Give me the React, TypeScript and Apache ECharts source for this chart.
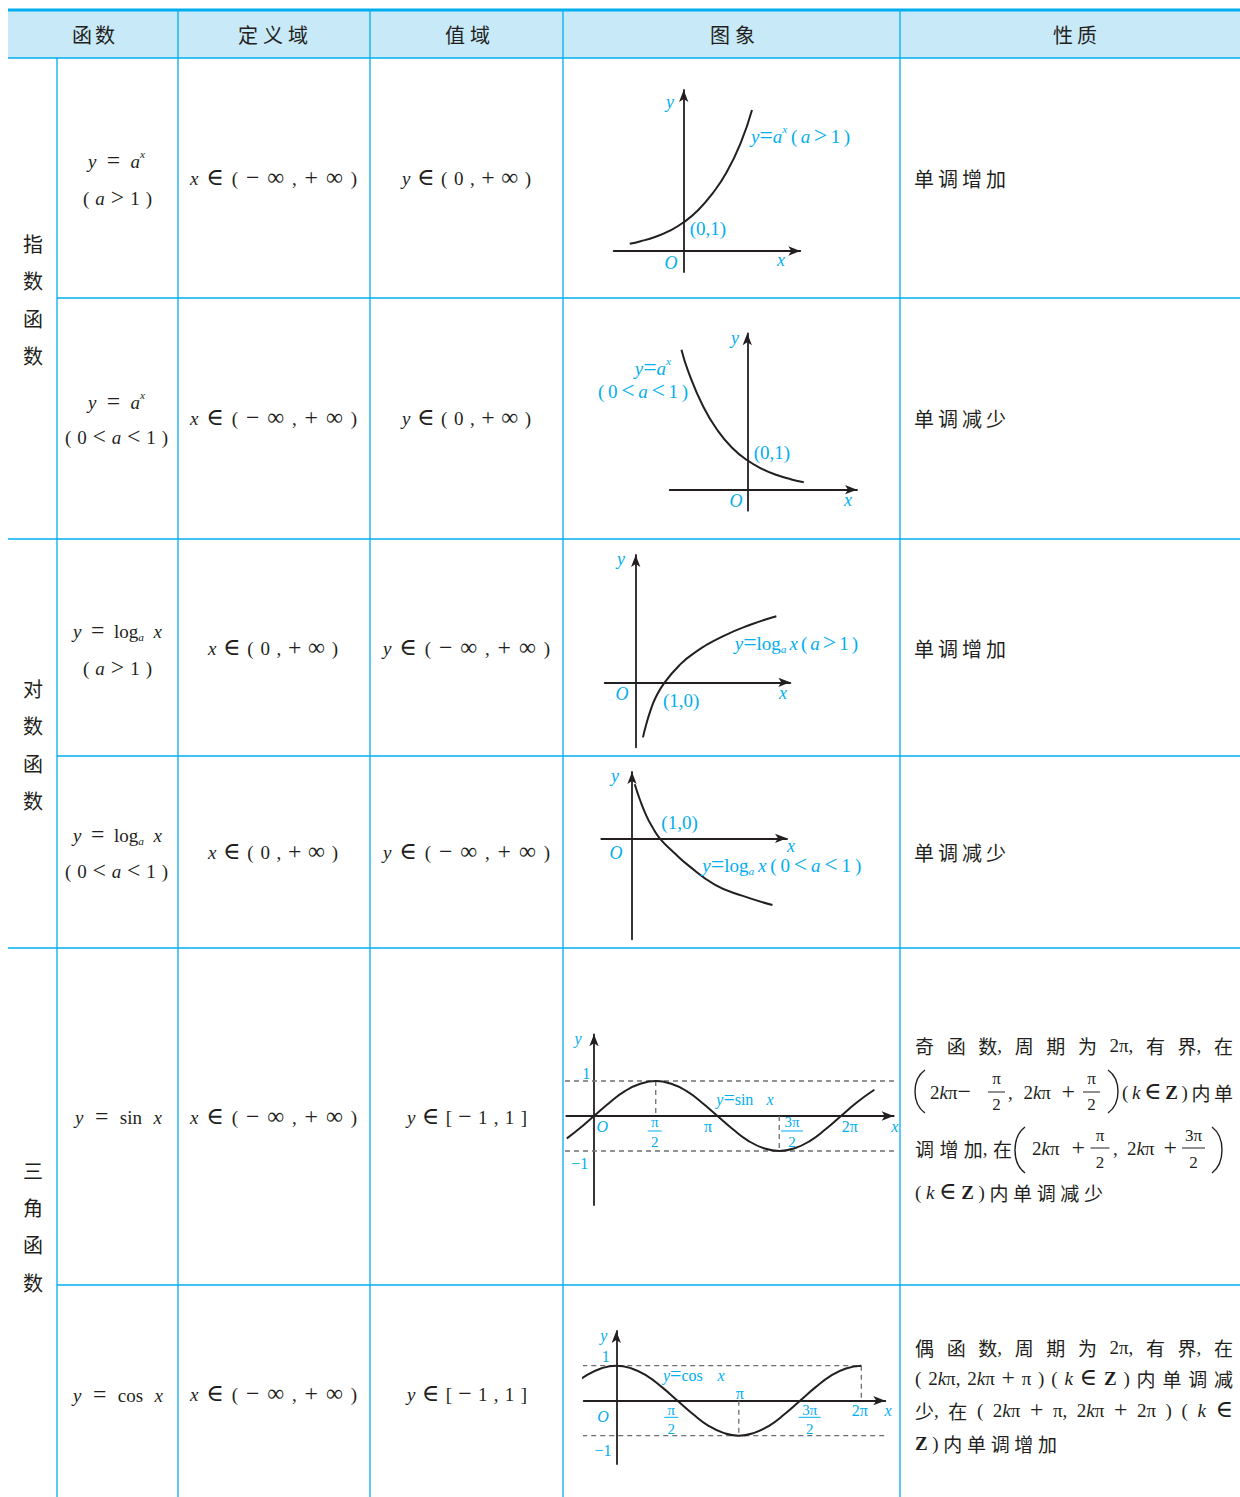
import React, { useEffect, useRef } from 'react';
import * as echarts from 'echarts';

const CYAN = '#00aeef';
const INK = '#231f20';
const GUIDE = '#6d6e71';
const HEAD_BG = '#c8e9f8';
const SERIF = '"Liberation Serif", "DejaVu Serif", serif';
const CJKF = '"Noto Sans CJK SC", "Noto Sans CJK JP", sans-serif';
const OPS = '=<>+−∈∞';

// ---------------- data ----------------
const headerTexts = ['函 数', '定 义 域', '值 域', '图 象', '性 质'];
const groupNames = ['指数函数', '对数函数', '三角函数'];
const funcTexts = [
  '*y = *a ^x', '( *a > 1 )',
  '*y = *a ^x', '( 0 < *a < 1 )',
  '*y = log _a *x', '( *a > 1 )',
  '*y = log _a *x', '( 0 < *a < 1 )',
  '*y = sin *x',
  '*y = cos *x',
];
const domainTexts = [
  '*x ∈ ( − ∞ , + ∞ )', '*x ∈ ( − ∞ , + ∞ )',
  '*x ∈ ( 0 , + ∞ )', '*x ∈ ( 0 , + ∞ )',
  '*x ∈ ( − ∞ , + ∞ )', '*x ∈ ( − ∞ , + ∞ )',
];
const rangeTexts = [
  '*y ∈ ( 0 , + ∞ )', '*y ∈ ( 0 , + ∞ )',
  '*y ∈ ( − ∞ , + ∞ )', '*y ∈ ( − ∞ , + ∞ )',
  '*y ∈ [ − 1 , 1 ]', '*y ∈ [ − 1 , 1 ]',
];
const propertyTexts = ['单 调 增 加', '单 调 减 少', '单 调 增 加', '单 调 减 少'];

// graph curves
const expUpX = [-1.88, -1.5, -1, -0.5, 0, 0.5, 1, 1.5, 2, 2.38];
const expUpY = [0.25, 0.34, 0.49, 0.7, 1, 1.42, 2, 2.75, 3.8, 4.91];
const expDownX = [-2.24, -2, -1.5, -1, -0.5, 0, 0.5, 1, 1.5, 1.92];
const expDownY = [4.76, 4.0, 2.83, 2.0, 1.41, 1, 0.71, 0.5, 0.35, 0.25];
const logUpX = [0.25, 0.35, 0.5, 0.7, 1, 1.5, 2, 3, 4, 4.85];
const logUpY = [-1.9, -1.5, -1.0, -0.5, 0, 0.58, 1, 1.58, 2.0, 2.28];
const logDownX = [0.1, 0.28, 0.52, 0.75, 1, 1.5, 2, 3, 4, 5.07];
const logDownY = [1.95, 1.41, 0.81, 0.38, 0, -0.5, -0.95, -1.68, -2.08, -2.41];
const sinX = [-0.22, -0.125, 0, 0.125, 0.25, 0.375, 0.5, 0.625, 0.75, 0.875, 1, 1.125, 1.25, 1.375, 1.5, 1.625, 1.75, 1.875, 2, 2.125, 2.27];
const sinY = [-0.64, -0.38, 0, 0.38, 0.71, 0.92, 1, 0.92, 0.71, 0.38, 0, -0.38, -0.71, -0.92, -1, -0.92, -0.71, -0.38, 0, 0.38, 0.75];
const cosX = [-0.375, -0.25, -0.125, 0, 0.125, 0.25, 0.375, 0.5, 0.625, 0.75, 0.875, 1, 1.125, 1.25, 1.375, 1.5, 1.625, 1.75, 1.875, 2];
const cosY = [0.38, 0.71, 0.92, 1, 0.92, 0.71, 0.38, 0, -0.38, -0.71, -0.92, -1, -0.92, -0.71, -0.38, 0, 0.38, 0.71, 0.92, 1];
const sinGuides = [
  [[-0.235, 1], [2.445, 1]],
  [[-0.235, -1], [2.445, -1]],
  [[0.5, 1], [0.5, 0]],
  [[1.5, 0], [1.5, -1]],
];
const cosGuides = [
  [[-0.278, 1], [2, 1]],
  [[-0.278, -1], [2.26, -1]],
  [[1, 0], [1, -1]],
  [[2, 1], [2, 0]],
];

// ---------------- layout (pixels) ----------------
const graphBoxes = [
  { ox: 683.7, oy: 251, ux: 28.7, uy: 28.7, xL: 613.7, xR: 800.3, yT: 90, yB: 272 },
  { ox: 747.3, oy: 489.7, ux: 29.4, uy: 29.4, xL: 669.7, xR: 857, yT: 333.3, yB: 510.7 },
  { ox: 635.7, oy: 682.3, ux: 29, uy: 29, xL: 604.7, xR: 790.3, yT: 555, yB: 747.3 },
  { ox: 632, oy: 838.3, ux: 27.7, uy: 27.7, xL: 601.3, xR: 787, yT: 772, yB: 939.3 },
  { ox: 594, oy: 1116, ux: 123.5, uy: 35, xL: 566.3, xR: 893.7, yT: 1034.3, yB: 1205 },
  { ox: 616.3, oy: 1400.7, ux: 122.5, uy: 35, xL: 583.7, xR: 885.3, yT: 1331, yB: 1464 },
];

let mctx: CanvasRenderingContext2D | null = null;
function mw(text: string, font: string): number {
  if (!mctx) mctx = document.createElement('canvas').getContext('2d');
  mctx!.font = font;
  return mctx!.measureText(text).width;
}

function parseTokens(src: string, size: number) {
  return src.split(' ').filter((s) => s.length > 0).map((raw) => {
    let p = raw;
    let attach = false, italic = false, bold = false, sup = false, sub = false;
    while (p.length > 1 && '~*!^_'.indexOf(p[0]) >= 0) {
      const f = p[0];
      p = p.slice(1);
      if (f === '~') attach = true;
      else if (f === '*') italic = true;
      else if (f === '!') bold = true;
      else if (f === '^') { sup = true; italic = true; attach = true; }
      else { sub = true; italic = true; attach = true; }
    }
    const cjk = p.charCodeAt(0) >= 0x2e80;
    const isOp = p.length === 1 && OPS.indexOf(p) >= 0;
    const fam = cjk ? CJKF : SERIF;
    let sz = sup || sub ? size * 0.6 : size;
    if (isOp) sz = size * 1.25;
    const dy = sup ? -size * 0.36 : sub ? size * 0.3 : isOp ? -size * 0.04 : 0;
    const fs = italic ? 'italic' : 'normal';
    const fw = bold ? 'bold' : 'normal';
    const w = mw(p, `${fs} ${fw} ${sz}px ${fam}`);
    return { t: p, fam, fs, fw, sz, dy, attach, w };
  });
}

function textRow(out: any[], src: string, x0: number, x1: number | null, y: number, size: number, color: string, center = false) {
  const toks = parseTokens(src, size);
  const total = toks.reduce((s, t) => s + t.w, 0);
  const gapsN = toks.filter((t, i) => i > 0 && !t.attach).length;
  let gap = 0;
  if (x1 != null && gapsN > 0) gap = (x1 - x0 - total) / gapsN;
  let x = center ? x0 - total / 2 : x0;
  toks.forEach((t, i) => {
    if (i > 0 && !t.attach) x += gap;
    out.push({
      type: 'text', x, y: y + t.dy, silent: true, z: 10,
      style: {
        text: t.t, fontFamily: t.fam, fontSize: t.sz, fontStyle: t.fs, fontWeight: t.fw,
        fill: color, textAlign: 'left', textVerticalAlign: 'middle', align: 'left', verticalAlign: 'middle',
      },
    });
    x += t.w;
  });
}

function frac(out: any[], num: string, den: string, cx: number, yN: number, yBar: number, yD: number, barW: number, size: number, color: string) {
  textRow(out, num, cx, null, yN, size, color, true);
  textRow(out, den, cx, null, yD, size, color, true);
  out.push({ type: 'line', silent: true, z: 10, shape: { x1: cx - barW / 2, y1: yBar, x2: cx + barW / 2, y2: yBar }, style: { stroke: color, lineWidth: 1 } });
}

function paren(out: any[], xl: number, xr: number, yt: number, yb: number, left: boolean) {
  const xo = left ? xr : xl;
  const xt = left ? xl : xr;
  const xi = xo + (xt - xo) / 0.75;
  out.push({
    type: 'bezierCurve', silent: true, z: 10,
    shape: { x1: xo, y1: yt, x2: xo, y2: yb, cpx1: xi, cpy1: yt + (yb - yt) * 0.22, cpx2: xi, cpy2: yt + (yb - yt) * 0.78 },
    style: { stroke: INK, lineWidth: 1.4, fill: null },
  });
}

function buildOption() {
  const g: any[] = [];
  // header background
  g.push({ type: 'rect', silent: true, z: 0, shape: { x: 8, y: 10, width: 1232, height: 48 }, style: { fill: HEAD_BG } });
  const L = (x1: number, y1: number, x2: number, y2: number, w = 1.3) =>
    g.push({ type: 'line', silent: true, z: 1, shape: { x1, y1, x2, y2 }, style: { stroke: CYAN, lineWidth: w } });
  [178, 370, 563, 900].forEach((x) => L(x, 10, x, 1497));
  L(57, 58, 57, 1497);
  L(8, 58, 1240, 58, 1.5);
  [298, 756, 1285].forEach((y) => L(57, y, 1240, y));
  [539, 948].forEach((y) => L(8, y, 1240, y));
  L(8, 10, 1240, 10, 3);

  // header
  const headerSpans = [[72, 115], [238, 308], [445, 490], [710, 755], [1053, 1097]];
  headerTexts.forEach((t, i) => textRow(g, t, headerSpans[i][0], headerSpans[i][1], 34, 20, INK));

  // group names (vertical)
  const groupYs = [[243, 280, 318, 355], [688, 725, 763, 800], [1170, 1207, 1244, 1282]];
  groupNames.forEach((name, gi) => {
    name.split('').forEach((ch, k) => textRow(g, ch, 33, null, groupYs[gi][k], 20, INK, true));
  });

  // function column
  const funcPos = [
    [161, 88, 145], [198, 83, 152],
    [402, 88, 145], [437, 65, 168],
    [631, 73, 162], [668, 83, 152],
    [835, 73, 162], [871, 65, 168],
    [1117, 75, 162],
    [1395, 73, 163],
  ];
  funcTexts.forEach((t, i) => textRow(g, t, funcPos[i][1], funcPos[i][2], funcPos[i][0], 19, INK));

  const rowYs = [178, 418, 648, 852, 1117, 1394];
  const domainSpans = [[190, 357], [190, 357], [208, 338], [208, 338], [190, 357], [190, 357]];
  domainTexts.forEach((t, i) => textRow(g, t, domainSpans[i][0], domainSpans[i][1], rowYs[i], 19, INK));
  const rangeSpans = [[402, 531], [402, 531], [383, 550], [383, 550], [407, 527], [407, 527]];
  rangeTexts.forEach((t, i) => textRow(g, t, rangeSpans[i][0], rangeSpans[i][1], rowYs[i], 19, INK));
  propertyTexts.forEach((t, i) => textRow(g, t, 914, 1006, rowYs[i], 20, INK));

  // sin property
  const PS = 19;
  textRow(g, '奇 函 数 ~, 周 期 为 2 ~π ~, 有 界 ~, 在', 915, 1233, 1045, PS, INK);
  paren(g, 915, 925, 1070, 1113, true);
  textRow(g, '2 ~*k ~π ~−', 930, 983, 1092, PS, INK);
  frac(g, 'π', '2', 996.5, 1078, 1092, 1104, 17, 17, INK);
  textRow(g, ', 2 ~*k ~π +', 1008, 1075, 1092, PS, INK);
  frac(g, 'π', '2', 1091.5, 1078, 1092, 1104, 17, 17, INK);
  paren(g, 1108, 1118, 1070, 1113, false);
  textRow(g, '( *k ∈ !Z ) 内 单', 1122, 1233, 1092, PS, INK);
  textRow(g, '调 增 加 ~, 在', 915, 1012, 1148, PS, INK);
  paren(g, 1015, 1025, 1127, 1173, true);
  textRow(g, '2 ~*k ~π +', 1032, 1085, 1148, PS, INK);
  frac(g, 'π', '2', 1100, 1135, 1148, 1162, 19, 17, INK);
  textRow(g, ', 2 ~*k ~π +', 1113, 1177, 1148, PS, INK);
  frac(g, '3 ~π', '2', 1193.5, 1135, 1148, 1162, 23, 17, INK);
  paren(g, 1212, 1222, 1127, 1173, false);
  textRow(g, '( *k ∈ !Z ) 内 单 调 减 少', 915, 1103, 1192, PS, INK);

  // cos property
  textRow(g, '偶 函 数 ~, 周 期 为 2 ~π ~, 有 界 ~, 在', 915, 1233, 1347, PS, INK);
  textRow(g, '( 2 ~*k ~π ~, 2 ~*k ~π + π ) ( *k ∈ !Z ) 内 单 调 减', 915, 1233, 1378, PS, INK);
  textRow(g, '少 ~, 在 ( 2 ~*k ~π + π ~, 2 ~*k ~π + 2 ~π ) ( *k ∈', 915, 1233, 1410, PS, INK);
  textRow(g, '!Z ) 内 单 调 增 加', 915, 1057, 1443, PS, INK);

  // graph labels
  const C = (t: string, x: number, y: number, s = 18) => textRow(g, t, x, null, y, s, CYAN, true);
  // G1
  C('*y', 670, 102); C('*x', 781, 260); C('*O', 671, 263);
  textRow(g, '(0,1)', 689.7, null, 228, 19, CYAN);
  textRow(g, '*y ~= ~*a ^x ( *a > 1 )', 751, 850, 136, 19, CYAN);
  // G2
  C('*y', 735, 338); C('*x', 848, 500); C('*O', 736, 501);
  textRow(g, '(0,1)', 753.7, null, 452, 19, CYAN);
  textRow(g, '*y ~= ~*a ^x', 634.7, 676.3, 368, 19, CYAN);
  textRow(g, '( 0 < *a < 1 )', 598, 688, 391, 19, CYAN);
  // G3
  C('*y', 621, 559); C('*x', 783, 693); C('*O', 622, 694);
  textRow(g, '(1,0)', 663, null, 700.7, 19, CYAN);
  textRow(g, '*y ~= ~log _a *x ( *a > 1 )', 734.7, 858, 643, 19, CYAN);
  // G4
  C('*y', 615, 776); C('*x', 791, 846); C('*O', 616, 852.7);
  textRow(g, '(1,0)', 661.3, null, 822.7, 19, CYAN);
  textRow(g, '*y ~= ~log _a *x ( 0 < *a < 1 )', 702.3, 861.3, 865, 19, CYAN);
  // G5 sin
  C('*y', 578, 1038, 16); C('1', 586.3, 1073, 16); C('−1', 579.7, 1163, 16); C('*O', 602.3, 1126, 16);
  frac(g, 'π', '2', 654.7, 1122, 1131, 1142, 14, 15, CYAN);
  C('π', 708, 1126, 16);
  frac(g, '3 ~π', '2', 792, 1122, 1131, 1142, 22, 15, CYAN);
  C('2 ~π', 849.7, 1126, 16); C('*x', 894.7, 1126, 16);
  textRow(g, '*y ~= ~sin *x', 716.3, 773.7, 1099, 16, CYAN);
  // G6 cos
  C('*y', 603.7, 1335, 16); C('1', 605.7, 1356.7, 16); C('−1', 603, 1450, 16); C('*O', 603, 1416.7, 16);
  frac(g, 'π', '2', 671.3, 1409.5, 1417.3, 1428.5, 14, 15, CYAN);
  C('π', 739.7, 1393.3, 16);
  frac(g, '3 ~π', '2', 809.7, 1409.5, 1417.3, 1428.5, 22, 15, CYAN);
  C('2 ~π', 859.7, 1410, 16); C('*x', 888, 1410, 16);
  textRow(g, '*y ~= ~cos *x', 663, 724.7, 1375, 16, CYAN);

  // grids & axes
  const grid = graphBoxes.map((b) => ({ left: b.xL, top: b.yT, width: b.xR - b.xL, height: b.yB - b.yT, containLabel: false }));
  const axisCommon = {
    axisLine: { show: true, onZero: true, symbol: ['none', 'arrow'], symbolSize: [7, 12], lineStyle: { color: INK, width: 1.8 } },
    axisTick: { show: false }, axisLabel: { show: false }, splitLine: { show: false },
  };
  const xAxis = graphBoxes.map((b, i) => ({ type: 'value', gridIndex: i, min: (b.xL - b.ox) / b.ux, max: (b.xR - b.ox) / b.ux, ...axisCommon }));
  const yAxis = graphBoxes.map((b, i) => ({ type: 'value', gridIndex: i, min: -(b.yB - b.oy) / b.uy, max: (b.oy - b.yT) / b.uy, ...axisCommon }));

  const curves = [[expUpX, expUpY], [expDownX, expDownY], [logUpX, logUpY], [logDownX, logDownY], [sinX, sinY], [cosX, cosY]];
  const series: any[] = [];
  curves.forEach(([xs, ys], i) => {
    series.push({
      type: 'line', xAxisIndex: i, yAxisIndex: i, data: xs.map((x, k) => [x, ys[k]]),
      smooth: true, showSymbol: false, symbol: 'none', clip: false, silent: true, z: 5,
      lineStyle: { color: INK, width: 2 },
    });
  });
  const guideSets: [number, number[][][]][] = [[4, sinGuides], [5, cosGuides]];
  guideSets.forEach(([gi, set]) => {
    set.forEach((seg) => {
      series.push({
        type: 'line', xAxisIndex: gi, yAxisIndex: gi, data: seg, showSymbol: false, symbol: 'none', clip: false, silent: true, z: 3,
        lineStyle: { color: GUIDE, width: 1.3, type: [5, 4] },
      });
    });
  });

  return {
    animation: false,
    backgroundColor: '#ffffff',
    grid, xAxis, yAxis, series,
    graphic: { elements: g },
  };
}

export default function App() {
  const ref = useRef<HTMLDivElement>(null);
  useEffect(() => {
    if (!ref.current) return;
    const chart = echarts.init(ref.current, null, { renderer: 'svg' });
    chart.setOption(buildOption() as any);
    return () => chart.dispose();
  }, []);
  return <div ref={ref} style={{ position: 'absolute', left: 0, top: 0, width: 1240, height: 1497 }} />;
}
